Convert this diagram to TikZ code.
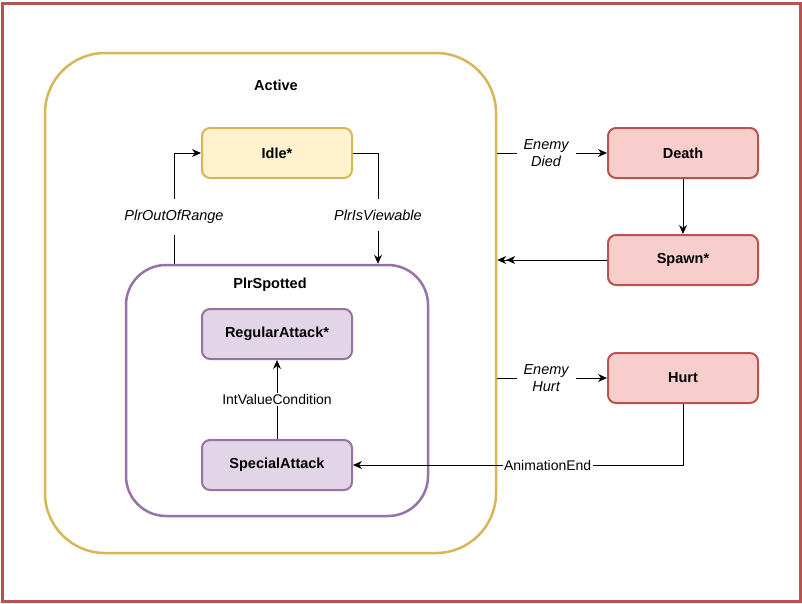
\documentclass[tikz,border=0pt]{standalone}
\usepackage{fontspec}
\setmainfont{Liberation Sans}
\usetikzlibrary{arrows.meta, positioning}
\definecolor{idlefill}{HTML}{FFF2CC}
\definecolor{idleline}{HTML}{D6B656}
\definecolor{atkfill}{HTML}{E1D5E7}
\definecolor{atkline}{HTML}{9673A6}
\definecolor{lifefill}{HTML}{F8CECC}
\definecolor{lifeline}{HTML}{B85450}

\begin{document}
\begin{tikzpicture}[
    x=1pt, y=-1pt,
    state/.style={rectangle, draw, line width=2pt, rounded corners=8pt, minimum width=150pt, minimum height=50pt, font=\fontsize{14.5}{17}\selectfont\bfseries},
    group/.style={rectangle, draw, line width=2.5pt},
    title/.style={font=\fontsize{14.5}{17}\selectfont\bfseries},
    cond/.style={font=\fontsize{14.5}{17}\selectfont\itshape, fill=white, align=center, inner sep=7pt},
    plain/.style={font=\fontsize{14}{17}\selectfont, fill=white, inner sep=1.5pt},
    arrow/.style={line width=1pt, -{Stealth[length=9pt,width=8pt]}}
]
    \useasboundingbox (0,0) rectangle (802,603);
    \draw[lifeline, line width=3pt] (2,3) rectangle (800,601);

    % containers
    \node (active) [group, idleline, minimum width=451pt, minimum height=500pt, rounded corners=60pt] at (270.5,303) {};
    \node (activelbl) [title] at (276,85) {Active};
    \node (spotted) [group, atkline, minimum width=302pt, minimum height=251pt, rounded corners=40pt] at (277,390.5) {};
    \node (spottedlbl) [title] at (270,285) {PlrSpotted};

    % states
    \node (idle) [state, draw=idleline, fill=idlefill] at (277,153) {Idle*};
    \node (regular) [state, draw=atkline, fill=atkfill] at (277,334) {RegularAttack*};
    \node (special) [state, draw=atkline, fill=atkfill, below=79pt of regular] {SpecialAttack};
    \node (death) [state, draw=lifeline, fill=lifefill] at (683,153) {Death};
    \node (spawn) [state, draw=lifeline, fill=lifefill, below=55pt of death] {Spawn*};
    \node (hurt) [state, draw=lifeline, fill=lifefill, below=66pt of spawn] {Hurt};

    \draw [arrow] (idle.east) -| node[cond, pos=0.78, inner sep=2pt, inner ysep=11pt] {PlrIsViewable} ([xshift=101pt]spotted.north);
    \draw [arrow] ([xshift=-103pt]spotted.north) |- node[cond, pos=0.21, inner sep=2pt, inner ysep=11pt] {PlrOutOfRange} (idle.west);
    \draw [arrow] (special) -- node[plain] {IntValueCondition} (regular);
    \draw [arrow] (death.west -| active.east) -- node[cond, xshift=-6pt] {Enemy\\Died} (death.west);
    \draw [arrow] (death) -- (spawn);
    \draw [line width=1pt, -{Stealth[length=9pt,width=8pt]Stealth[length=9pt,width=8pt]}] (spawn.west) -- (spawn.west -| active.east);
    \draw [arrow] (hurt.west -| active.east) -- node[cond, xshift=-6pt] {Enemy\\Hurt} (hurt.west);
    \draw [arrow] (hurt.south) |- node[plain, pos=0.705] {AnimationEnd} (special.east);
\end{tikzpicture}
\end{document}
